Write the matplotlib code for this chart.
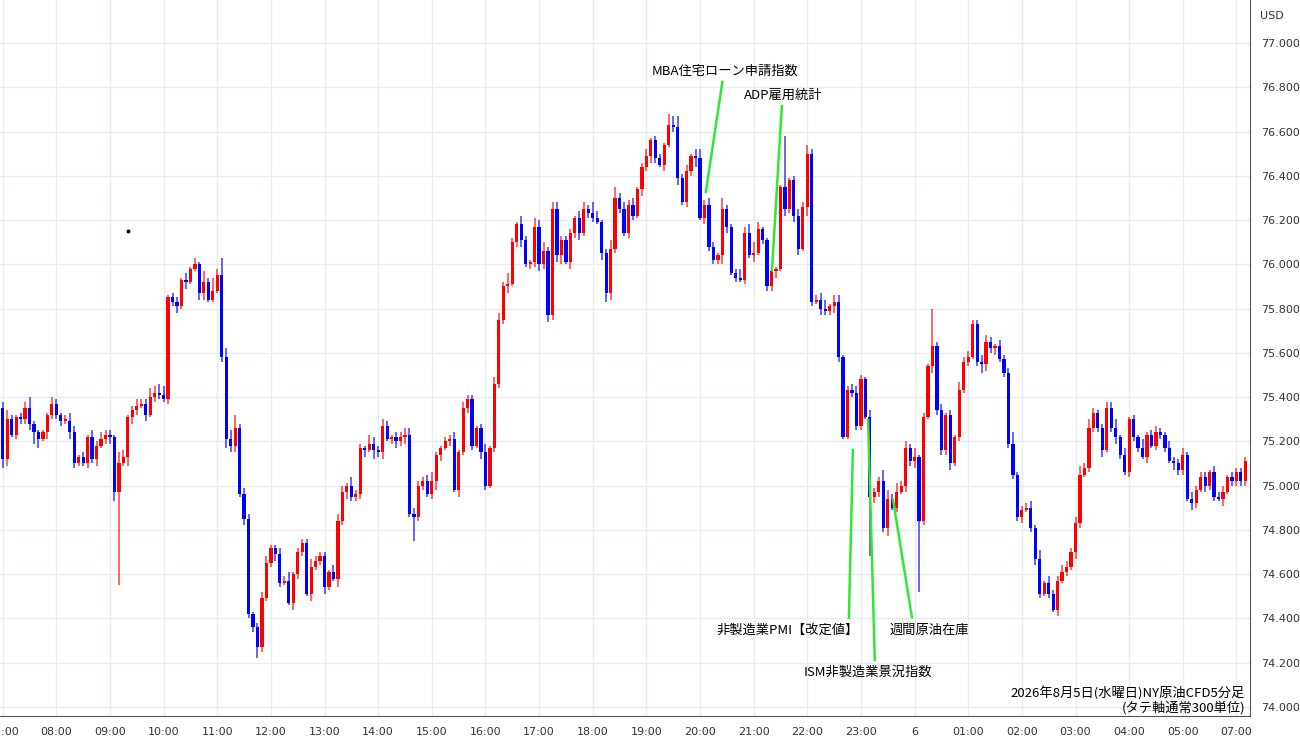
import matplotlib
matplotlib.use("Agg")
import matplotlib.pyplot as plt
import numpy as np

first_open = 75.35
closes = [
75.12,75.30,75.23,75.31,75.30,75.35,75.28,75.24,75.21,75.24,75.32,75.37,
75.32,75.29,75.29,75.24,75.10,75.13,75.10,75.22,75.12,75.18,75.21,75.23,
75.22,74.97,75.10,75.13,75.31,75.34,75.36,75.37,75.32,75.40,75.42,75.41,
75.39,75.85,75.83,75.81,75.93,75.92,75.98,76.00,75.87,75.92,75.84,75.88,
75.95,75.58,75.21,75.18,75.26,74.96,74.85,74.42,74.36,74.27,74.49,74.65,
74.72,74.69,74.56,74.57,74.47,74.60,74.70,74.74,74.51,74.63,74.66,74.68,
74.54,74.61,74.58,74.84,74.97,75.00,74.95,74.96,75.17,75.16,75.19,75.16,
75.15,75.27,75.21,75.22,75.20,75.22,75.23,74.87,74.86,75.00,75.02,74.96,
75.02,75.14,75.17,75.20,75.21,74.98,75.15,75.35,75.39,75.18,75.26,75.15,
75.00,75.17,75.46,75.75,75.90,75.91,76.10,76.18,76.11,76.00,76.01,76.17,
76.00,76.06,75.77,76.25,76.04,76.11,76.01,76.14,76.21,76.14,76.25,76.23,
76.21,76.19,76.05,75.87,76.07,76.30,76.25,76.14,76.27,76.22,76.34,76.44,
76.49,76.56,76.48,76.45,76.54,76.63,76.62,76.39,76.28,76.42,76.49,76.48,
76.21,76.27,76.08,76.02,76.04,76.25,76.17,75.96,75.94,75.93,76.14,76.04,
76.05,76.16,76.11,75.90,75.97,75.98,76.35,76.25,76.38,76.22,76.07,76.26,
76.50,75.83,75.84,75.80,75.79,75.81,75.83,75.58,75.22,75.43,75.42,75.27,
75.48,75.31,74.95,74.97,75.02,74.81,74.94,74.90,74.97,75.00,75.17,75.11,
75.13,74.84,75.31,75.54,75.63,75.34,75.16,75.32,75.10,75.22,75.43,75.56,
75.58,75.73,75.56,75.55,75.65,75.62,75.63,75.57,75.51,75.19,75.05,74.86,
74.89,74.90,74.81,74.67,74.51,74.56,74.51,74.44,74.57,74.61,74.63,74.70,
74.83,75.05,75.08,75.26,75.33,75.26,75.16,75.35,75.26,75.22,75.14,75.06,
75.30,75.22,75.17,75.13,75.23,75.18,75.24,75.23,75.17,75.11,75.10,75.07,
75.14,74.94,74.92,74.98,75.04,75.00,75.06,74.95,74.94,74.97,75.04,75.02,
75.06,75.02,75.11]

# wick lengths in 0.01 units (upper / lower)
upper_wicks = ("342123511113 213431213232 215312322434 412213121526 314462321233 113241222422 "
               "213331422143 232122333223 411223132212 413325214214 342332221332 531245232312 "
               "312213452313 423215212434 531121121232 222341331233 213225424232 412132312142 "
               "322332132251 223141322332 342421233413 121412321322 313222132312 222222222222")
lower_wicks = ("431222354132 221321122312 342143213122 122313113311 124331322321 232113221312 "
               "311423222314 231232313221 243121312213 212223123122 324234132312 213432212213 "
               "232131231224 132224312121 312223132331 421322321122 213322412132 322132223121 "
               "212432312222 312321223121 321222312321 222131222132 213213221312 222222222222")
special_lows = {26: 74.55, 57: 74.22, 92: 74.75, 122: 75.74, 194: 74.68, 205: 74.52, 235: 74.43}
special_highs = {43: 76.03, 49: 76.03, 149: 76.68, 175: 76.58, 180: 76.54, 208: 75.80, 217: 75.75}

hour_labels = ["07:00","08:00","09:00","10:00","11:00","12:00","13:00","14:00","15:00","16:00",
               "17:00","18:00","19:00","20:00","21:00","22:00","23:00","6","01:00","02:00",
               "03:00","04:00","05:00","07:00"]
y_ticks = [74.0,74.2,74.4,74.6,74.8,75.0,75.2,75.4,75.6,75.8,76.0,76.2,76.4,76.6,76.8,77.0]

n = len(closes)
opens = [first_open] + closes[:-1]
uw = [int(c) for c in upper_wicks.replace(" ", "")][:n]
lw = [int(c) for c in lower_wicks.replace(" ", "")][:n]
highs = [max(o, c) + u / 100 for o, c, u in zip(opens, closes, uw)]
lows = [min(o, c) - l / 100 for o, c, l in zip(opens, closes, lw)]
for k, v in special_lows.items(): lows[k] = v
for k, v in special_highs.items(): highs[k] = v

W, H = 1300, 745
fig = plt.figure(figsize=(13, 7.45), dpi=100)
ax = fig.add_axes([0, 1 - 716 / H, 1250 / W, 716 / H])
px = 4.47
ax.set_xlim(-2.7 / px, 1250 / px - 2.7 / px)
ax.set_ylim(77 - 673 / 221.3, 77 + 43 / 221.3)

gc = "#e6ecf2"
for yv in y_ticks:
    ax.axhline(yv, color=gc, lw=1, zorder=0)
for k in range(len(hour_labels)):
    ax.axvline(12 * k, color=gc, lw=1, zorder=0)

for i in range(n):
    up = closes[i] >= opens[i]
    col = "#ff0000" if up else "#0000ff"
    ax.vlines(i, lows[i], highs[i], color=col, lw=1.3, alpha=0.65, zorder=2)
    lo, hi = min(opens[i], closes[i]), max(opens[i], closes[i])
    ax.bar(i, max(hi - lo, 0.01), bottom=lo, width=0.72, color=col, lw=0, zorder=3)

ax.plot([28], [76.15], marker='o', ms=1.8, color='black')

for s in ax.spines.values():
    s.set_visible(False)
ax.spines['right'].set_visible(True)
ax.spines['bottom'].set_visible(True)
ax.spines['right'].set_color('#555555')
ax.spines['bottom'].set_color('#555555')
ax.yaxis.tick_right()
ax.set_yticks(y_ticks)
ax.set_yticklabels([f"{v:.3f}" for v in y_ticks], fontsize=8, color='#333333')
ax.set_xticks([12 * k for k in range(len(hour_labels))])
ax.set_xticklabels(hour_labels, fontsize=8, color='#333333')
ax.tick_params(length=0, pad=8)
fig.text(1272 / W, 1 - 16 / H, "USD", fontsize=8, ha='center', va='center', color='#333333')

jp = ['Noto Sans CJK JP', 'DejaVu Sans']
green = '#33e633'
anns = [
    ("MBA住宅ローン申請指数", (161.6, 76.873), (161.0, 76.824), (157.3, 76.327)),
    ("ADP雇用統計", (174.6, 76.765), (174.3, 76.715), (172.1, 75.974)),
    ("非製造業PMI【改定値】", (175.7, 74.347), (189.3, 74.402), (190.2, 75.161)),
    ("ISM非製造業景況指数", (193.6, 74.158), (195.1, 74.212), (193.6, 75.296)),
    ("週間原油在庫", (207.4, 74.347), (203.4, 74.406), (199.2, 74.935)),
]
for txt, tp, a, b in anns:
    ax.plot([a[0], b[0]], [a[1], b[1]], color=green, lw=1.8, zorder=4)
    ax.text(tp[0], tp[1], txt, family=jp, fontsize=9.5, ha='center', va='center', zorder=5)

fig.text(1245 / W, 1 - 693 / H, "2026年8月5日(水曜日)NY原油CFD5分足", family=jp, fontsize=9.5, ha='right', va='center')
fig.text(1245 / W, 1 - 708 / H, "(タテ軸通常300単位)", family=jp, fontsize=9.5, ha='right', va='center')

fig.savefig("out.png", dpi=100, facecolor='white')
